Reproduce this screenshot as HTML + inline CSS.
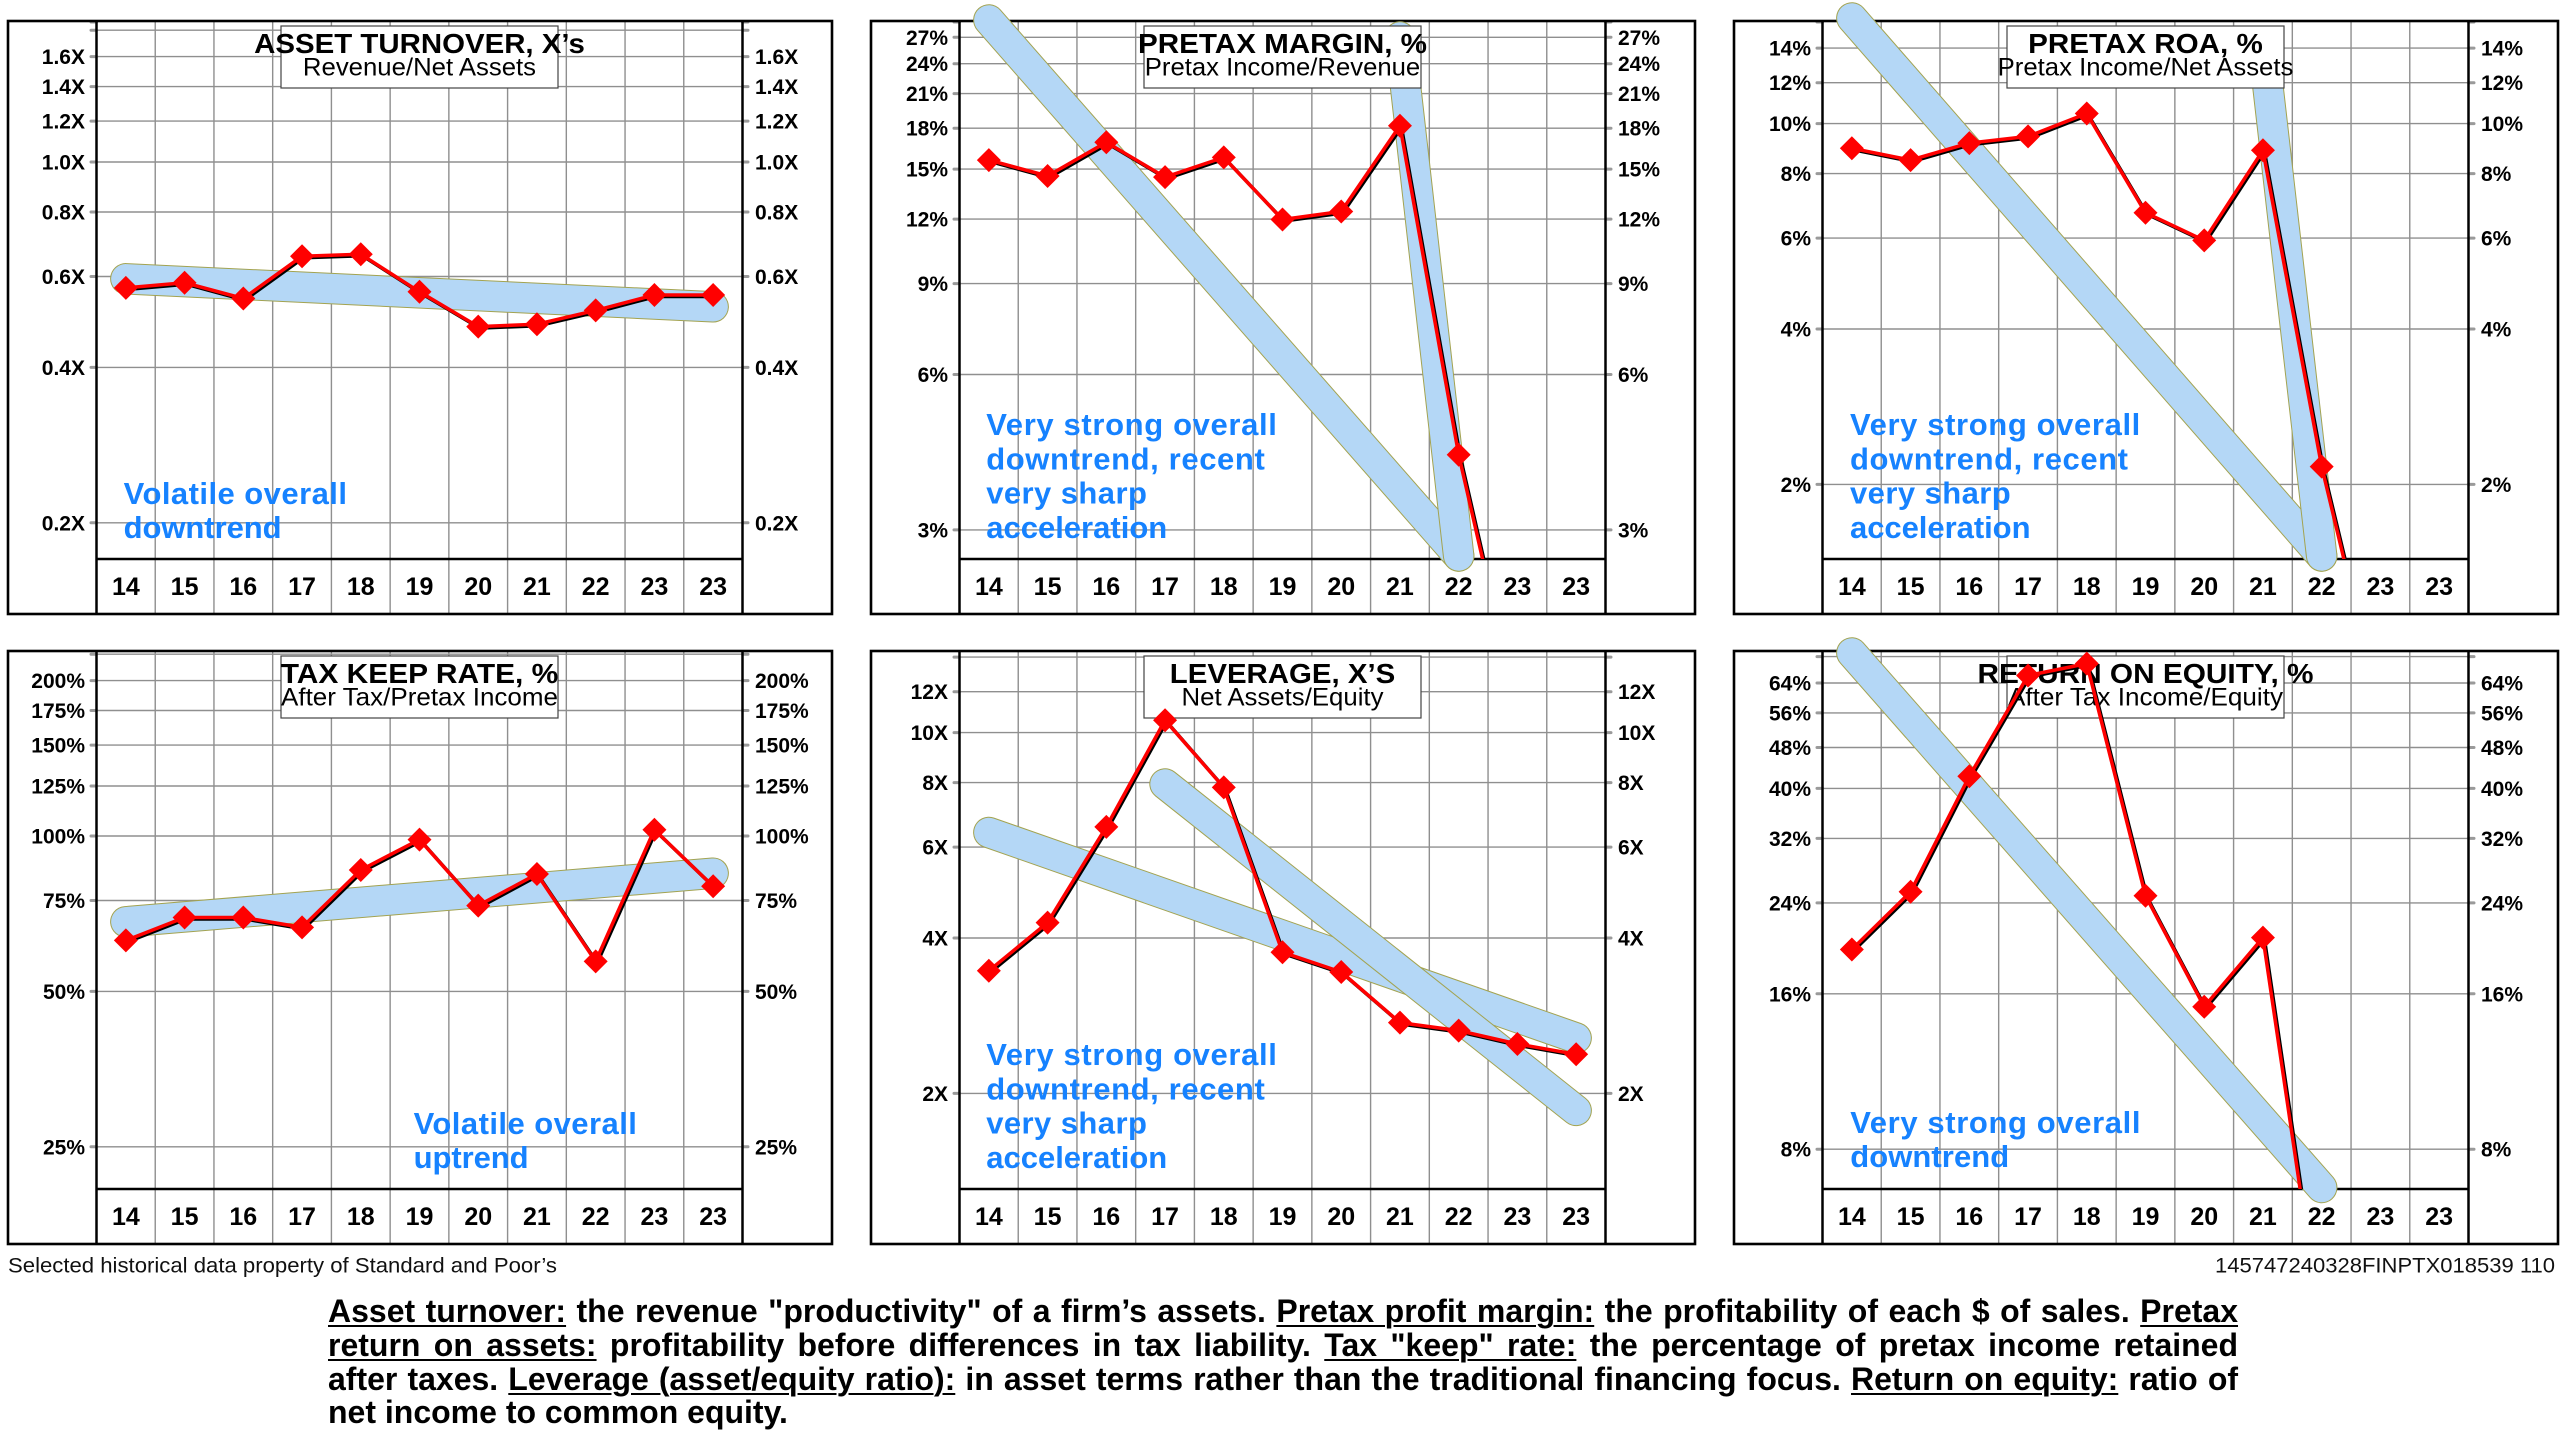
<!DOCTYPE html>
<html><head><meta charset="utf-8">
<style>
html,body{margin:0;padding:0;background:#fff;}
body{width:2560px;height:1442px;position:relative;overflow:hidden;}
svg{position:absolute;left:0;top:0;}
.tl{font-family:"Liberation Sans",sans-serif;font-weight:bold;font-size:21px;fill:#000;}
.yr{font-family:"Liberation Sans",sans-serif;font-weight:bold;font-size:25px;fill:#000;text-anchor:middle;}
.ti{font-family:"Liberation Sans",sans-serif;font-weight:bold;font-size:28px;fill:#000;}
.st{font-family:"Liberation Sans",sans-serif;font-size:25px;fill:#000;}
.an{font-family:"Liberation Sans",sans-serif;font-weight:bold;font-size:31px;fill:#1682ff;}
.ft{font-family:"Liberation Sans",sans-serif;font-size:21.5px;fill:#111;}
.hg{stroke:#8f8f8f;stroke-width:1.4;fill:none;}
.sb{stroke:#9a9a9a;stroke-width:3;stroke-linecap:round;fill:none;}
.bo{stroke:#a3a350;stroke-width:31.5;stroke-linecap:round;fill:none;}
.bf{stroke:#b4d7f6;stroke-width:29.5;stroke-linecap:round;fill:none;}
.ds{stroke:#000;stroke-width:3.5;fill:none;stroke-linejoin:round;}
.dl{stroke:#ff0000;stroke-width:3.5;fill:none;stroke-linejoin:round;}
.dm{fill:#ff0000;}
#para{position:absolute;left:328px;top:1295.4px;width:1910px;font-family:"Liberation Sans",sans-serif;font-weight:bold;font-size:32px;line-height:33.6px;color:#000;}
#para div{white-space:nowrap;text-align:justify;text-align-last:justify;width:1910px;}
#para div.last{text-align:left;text-align-last:left;}
#para .u{text-decoration:underline;text-decoration-thickness:2px;text-underline-offset:3px;}
</style></head>
<body>
<svg width="2560" height="1442" viewBox="0 0 2560 1442" xmlns="http://www.w3.org/2000/svg">
<defs>
<clipPath id="cp" clipPathUnits="userSpaceOnUse"><rect x="88.5" y="0" width="646" height="538"/></clipPath>
<g id="vg"><rect x="0" y="0" width="824" height="593" fill="#fff"/>
<path class="hg" d="M147.23 0V593M205.95 0V593M264.68 0V593M323.41 0V593M382.14 0V593M440.86 0V593M499.59 0V593M558.32 0V593M617.05 0V593M675.77 0V593"/></g>
<g id="ax"><path d="M88.5 0V593M734.5 0V593M88.5 538H734.5" stroke="#000" stroke-width="2.5" fill="none"/>
<rect x="0" y="0" width="824" height="593" fill="none" stroke="#000" stroke-width="2.6"/></g>
<rect id="tb" x="273" y="5" width="277" height="62" fill="#fff" stroke="#444" stroke-width="1.2"/>
<g id="yrs">
<text class="yr" x="117.86" y="574">14</text><text class="yr" x="176.59" y="574">15</text><text class="yr" x="235.32" y="574">16</text><text class="yr" x="294.05" y="574">17</text><text class="yr" x="352.77" y="574">18</text><text class="yr" x="411.5" y="574">19</text><text class="yr" x="470.23" y="574">20</text><text class="yr" x="528.95" y="574">21</text><text class="yr" x="587.68" y="574">22</text><text class="yr" x="646.41" y="574">23</text><text class="yr" x="705.14" y="574">23</text>
</g>
</defs>

<!-- PANEL 1 -->
<g transform="translate(8,21)">
<use href="#vg"/>
<path class="hg" d="M88.5 9.2H734.5M88.5 35.6H734.5M88.5 65.6H734.5M88.5 100.1H734.5M88.5 141H734.5M88.5 191H734.5M88.5 255.5H734.5M88.5 346.4H734.5M88.5 501.8H734.5"/>
<path class="sb" d="M83 1H88.5M83 9.2H88.5M83 35.6H88.5M83 65.6H88.5M83 100.1H88.5M83 141H88.5M83 191H88.5M83 255.5H88.5M83 346.4H88.5M83 501.8H88.5M734.5 1H740M734.5 9.2H740M734.5 35.6H740M734.5 65.6H740M734.5 100.1H740M734.5 141H740M734.5 191H740M734.5 255.5H740M734.5 346.4H740M734.5 501.8H740"/>
<use href="#ax"/>
<path class="bo" d="M117.86 257.8L705.14 285.8"/><path class="bf" d="M117.86 257.8L705.14 285.8"/>
<use href="#tb"/>
<text class="ti" x="246.15" y="32" textLength="330.7" lengthAdjust="spacingAndGlyphs">ASSET TURNOVER, X’s</text>
<text class="st" x="294.95" y="54.5" textLength="233.1" lengthAdjust="spacingAndGlyphs">Revenue/Net Assets</text>
<g clip-path="url(#cp)">
<polyline class="ds" transform="translate(1.5 1.5)" points="117.86,266.9 176.59,261.7 235.32,277.5 294.05,235.2 352.77,233.2 411.5,270.8 470.23,305.6 528.95,303.2 587.68,289.4 646.41,274 705.14,274"/>
<polyline class="dl" points="117.86,266.9 176.59,261.7 235.32,277.5 294.05,235.2 352.77,233.2 411.5,270.8 470.23,305.6 528.95,303.2 587.68,289.4 646.41,274 705.14,274"/>
<path class="dm" d="M117.86 254.9l12 12-12 12-12-12zM176.59 249.7l12 12-12 12-12-12zM235.32 265.5l12 12-12 12-12-12zM294.05 223.2l12 12-12 12-12-12zM352.77 221.2l12 12-12 12-12-12zM411.5 258.8l12 12-12 12-12-12zM470.23 293.6l12 12-12 12-12-12zM528.95 291.2l12 12-12 12-12-12zM587.68 277.4l12 12-12 12-12-12zM646.41 262l12 12-12 12-12-12zM705.14 262l12 12-12 12-12-12z"/>
</g>
<use href="#yrs"/>
<g class="tl" text-anchor="end">
<text x="77" y="43.1">1.6X</text><text x="77" y="73.1">1.4X</text><text x="77" y="107.6">1.2X</text><text x="77" y="148.5">1.0X</text><text x="77" y="198.5">0.8X</text><text x="77" y="263">0.6X</text><text x="77" y="353.9">0.4X</text><text x="77" y="509.3">0.2X</text>
</g>
<g class="tl">
<text x="747" y="43.1">1.6X</text><text x="747" y="73.1">1.4X</text><text x="747" y="107.6">1.2X</text><text x="747" y="148.5">1.0X</text><text x="747" y="198.5">0.8X</text><text x="747" y="263">0.6X</text><text x="747" y="353.9">0.4X</text><text x="747" y="509.3">0.2X</text>
</g>
<text class="an" x="115.6" y="483" textLength="223.4" lengthAdjust="spacing">Volatile overall</text>
<text class="an" x="115.6" y="517" textLength="158" lengthAdjust="spacing">downtrend</text>
</g>

<!-- PANEL 2 -->
<g transform="translate(871,21)">
<use href="#vg"/>
<path class="hg" d="M88.5 16.3H734.5M88.5 42.7H734.5M88.5 72.6H734.5M88.5 107.2H734.5M88.5 148.1H734.5M88.5 198.1H734.5M88.5 262.6H734.5M88.5 353.5H734.5M88.5 508.9H734.5"/>
<path class="sb" d="M83 1H88.5M83 16.3H88.5M83 42.7H88.5M83 72.6H88.5M83 107.2H88.5M83 148.1H88.5M83 198.1H88.5M83 262.6H88.5M83 353.5H88.5M83 508.9H88.5M734.5 1H740M734.5 16.3H740M734.5 42.7H740M734.5 72.6H740M734.5 107.2H740M734.5 148.1H740M734.5 198.1H740M734.5 262.6H740M734.5 353.5H740M734.5 508.9H740"/>
<use href="#ax"/>
<path class="bo" d="M117.86 -1L587.68 535"/><path class="bf" d="M117.86 -1L587.68 535"/>
<path class="bo" d="M528.95 16L587.68 535"/><path class="bf" d="M528.95 16L587.68 535"/>
<use href="#tb"/>
<text class="ti" x="267" y="32" textLength="289" lengthAdjust="spacingAndGlyphs">PRETAX MARGIN, %</text>
<text class="st" x="273.8" y="54.5" textLength="275.4" lengthAdjust="spacingAndGlyphs">Pretax Income/Revenue</text>
<g clip-path="url(#cp)">
<polyline class="ds" transform="translate(1.5 1.5)" points="117.86,139.1 176.59,155 235.32,121.3 294.05,156.1 352.77,136.4 411.5,198.5 470.23,190.5 528.95,104.7 587.68,433.7 646.41,690"/>
<polyline class="dl" points="117.86,139.1 176.59,155 235.32,121.3 294.05,156.1 352.77,136.4 411.5,198.5 470.23,190.5 528.95,104.7 587.68,433.7 646.41,690"/>
<path class="dm" d="M117.86 127.1l12 12-12 12-12-12zM176.59 143l12 12-12 12-12-12zM235.32 109.3l12 12-12 12-12-12zM294.05 144.1l12 12-12 12-12-12zM352.77 124.4l12 12-12 12-12-12zM411.5 186.5l12 12-12 12-12-12zM470.23 178.5l12 12-12 12-12-12zM528.95 92.7l12 12-12 12-12-12zM587.68 421.7l12 12-12 12-12-12z"/>
</g>
<use href="#yrs"/>
<g class="tl" text-anchor="end">
<text x="77" y="23.8">27%</text><text x="77" y="50.2">24%</text><text x="77" y="80.1">21%</text><text x="77" y="114.7">18%</text><text x="77" y="155.6">15%</text><text x="77" y="205.6">12%</text><text x="77" y="270.1">9%</text><text x="77" y="361">6%</text><text x="77" y="516.4">3%</text>
</g>
<g class="tl">
<text x="747" y="23.8">27%</text><text x="747" y="50.2">24%</text><text x="747" y="80.1">21%</text><text x="747" y="114.7">18%</text><text x="747" y="155.6">15%</text><text x="747" y="205.6">12%</text><text x="747" y="270.1">9%</text><text x="747" y="361">6%</text><text x="747" y="516.4">3%</text>
</g>
<text class="an" x="115.2" y="414" textLength="290.7" lengthAdjust="spacing">Very strong overall</text>
<text class="an" x="115.2" y="448.3" textLength="278.6" lengthAdjust="spacing">downtrend, recent</text>
<text class="an" x="115.2" y="482.6" textLength="160.7" lengthAdjust="spacing">very sharp</text>
<text class="an" x="115.2" y="517" textLength="181" lengthAdjust="spacing">acceleration</text>
</g>

<!-- PANEL 3 -->
<g transform="translate(1734,21)">
<use href="#vg"/>
<path class="hg" d="M88.5 27.1H734.5M88.5 61.7H734.5M88.5 102.6H734.5M88.5 152.6H734.5M88.5 217.1H734.5M88.5 308H734.5M88.5 463.4H734.5"/>
<path class="sb" d="M83 1H88.5M83 27.1H88.5M83 61.7H88.5M83 102.6H88.5M83 152.6H88.5M83 217.1H88.5M83 308H88.5M83 463.4H88.5M734.5 1H740M734.5 27.1H740M734.5 61.7H740M734.5 102.6H740M734.5 152.6H740M734.5 217.1H740M734.5 308H740M734.5 463.4H740"/>
<use href="#ax"/>
<path class="bo" d="M117.86 -3L587.68 535"/><path class="bf" d="M117.86 -3L587.68 535"/>
<path class="bo" d="M528.95 22L587.68 535"/><path class="bf" d="M528.95 22L587.68 535"/>
<use href="#tb"/>
<text class="ti" x="294.2" y="32" textLength="234.6" lengthAdjust="spacingAndGlyphs">PRETAX ROA, %</text>
<text class="st" x="263.65" y="54.5" textLength="295.7" lengthAdjust="spacingAndGlyphs">Pretax Income/Net Assets</text>
<g clip-path="url(#cp)">
<polyline class="ds" transform="translate(1.5 1.5)" points="117.86,127.3 176.59,139.1 235.32,122.1 294.05,115.4 352.77,92.5 411.5,191.7 470.23,219.4 528.95,129.3 587.68,445.6 646.41,690"/>
<polyline class="dl" points="117.86,127.3 176.59,139.1 235.32,122.1 294.05,115.4 352.77,92.5 411.5,191.7 470.23,219.4 528.95,129.3 587.68,445.6 646.41,690"/>
<path class="dm" d="M117.86 115.3l12 12-12 12-12-12zM176.59 127.1l12 12-12 12-12-12zM235.32 110.1l12 12-12 12-12-12zM294.05 103.4l12 12-12 12-12-12zM352.77 80.5l12 12-12 12-12-12zM411.5 179.7l12 12-12 12-12-12zM470.23 207.4l12 12-12 12-12-12zM528.95 117.3l12 12-12 12-12-12zM587.68 433.6l12 12-12 12-12-12z"/>
</g>
<use href="#yrs"/>
<g class="tl" text-anchor="end">
<text x="77" y="34.6">14%</text><text x="77" y="69.2">12%</text><text x="77" y="110.1">10%</text><text x="77" y="160.1">8%</text><text x="77" y="224.6">6%</text><text x="77" y="315.5">4%</text><text x="77" y="470.9">2%</text>
</g>
<g class="tl">
<text x="747" y="34.6">14%</text><text x="747" y="69.2">12%</text><text x="747" y="110.1">10%</text><text x="747" y="160.1">8%</text><text x="747" y="224.6">6%</text><text x="747" y="315.5">4%</text><text x="747" y="470.9">2%</text>
</g>
<text class="an" x="116" y="414" textLength="290.3" lengthAdjust="spacing">Very strong overall</text>
<text class="an" x="116" y="448.3" textLength="278" lengthAdjust="spacing">downtrend, recent</text>
<text class="an" x="116" y="482.6" textLength="160.7" lengthAdjust="spacing">very sharp</text>
<text class="an" x="116" y="517" textLength="180.5" lengthAdjust="spacing">acceleration</text>
</g>

<!-- PANEL 4 -->
<g transform="translate(8,651)">
<use href="#vg"/>
<path class="hg" d="M88.5 3.2H734.5M88.5 29.6H734.5M88.5 59.5H734.5M88.5 94.1H734.5M88.5 135H734.5M88.5 185H734.5M88.5 249.5H734.5M88.5 340.4H734.5M88.5 495.8H734.5"/>
<path class="sb" d="M83 3.2H88.5M83 29.6H88.5M83 59.5H88.5M83 94.1H88.5M83 135H88.5M83 185H88.5M83 249.5H88.5M83 340.4H88.5M83 495.8H88.5M734.5 3.2H740M734.5 29.6H740M734.5 59.5H740M734.5 94.1H740M734.5 135H740M734.5 185H740M734.5 249.5H740M734.5 340.4H740M734.5 495.8H740"/>
<use href="#ax"/>
<path class="bo" d="M117.86 270.8L705.14 222.2"/><path class="bf" d="M117.86 270.8L705.14 222.2"/>
<use href="#tb"/>
<text class="ti" x="272.75" y="32" textLength="277.5" lengthAdjust="spacingAndGlyphs">TAX KEEP RATE, %</text>
<text class="st" x="273" y="54.5" textLength="277" lengthAdjust="spacingAndGlyphs">After Tax/Pretax Income</text>
<g clip-path="url(#cp)">
<polyline class="ds" transform="translate(1.5 1.5)" points="117.86,289.4 176.59,266.5 235.32,266.5 294.05,276.4 352.77,219 411.5,188.6 470.23,254.6 528.95,223 587.68,310.4 646.41,178.7 705.14,235.2"/>
<polyline class="dl" points="117.86,289.4 176.59,266.5 235.32,266.5 294.05,276.4 352.77,219 411.5,188.6 470.23,254.6 528.95,223 587.68,310.4 646.41,178.7 705.14,235.2"/>
<path class="dm" d="M117.86 277.4l12 12-12 12-12-12zM176.59 254.5l12 12-12 12-12-12zM235.32 254.5l12 12-12 12-12-12zM294.05 264.4l12 12-12 12-12-12zM352.77 207l12 12-12 12-12-12zM411.5 176.6l12 12-12 12-12-12zM470.23 242.6l12 12-12 12-12-12zM528.95 211l12 12-12 12-12-12zM587.68 298.4l12 12-12 12-12-12zM646.41 166.7l12 12-12 12-12-12zM705.14 223.2l12 12-12 12-12-12z"/>
</g>
<use href="#yrs"/>
<g class="tl" text-anchor="end">
<text x="77" y="37.1">200%</text><text x="77" y="67">175%</text><text x="77" y="101.6">150%</text><text x="77" y="142.5">125%</text><text x="77" y="192.5">100%</text><text x="77" y="257">75%</text><text x="77" y="347.9">50%</text><text x="77" y="503.3">25%</text>
</g>
<g class="tl">
<text x="747" y="37.1">200%</text><text x="747" y="67">175%</text><text x="747" y="101.6">150%</text><text x="747" y="142.5">125%</text><text x="747" y="192.5">100%</text><text x="747" y="257">75%</text><text x="747" y="347.9">50%</text><text x="747" y="503.3">25%</text>
</g>
<text class="an" x="405.6" y="483" textLength="223.3" lengthAdjust="spacing">Volatile overall</text>
<text class="an" x="405.6" y="517" textLength="115" lengthAdjust="spacing">uptrend</text>
</g>

<!-- PANEL 5 -->
<g transform="translate(871,651)">
<use href="#vg"/>
<path class="hg" d="M88.5 6.1H734.5M88.5 40.7H734.5M88.5 81.6H734.5M88.5 131.6H734.5M88.5 196.1H734.5M88.5 287H734.5M88.5 442.4H734.5"/>
<path class="sb" d="M83 6.1H88.5M83 40.7H88.5M83 81.6H88.5M83 131.6H88.5M83 196.1H88.5M83 287H88.5M83 442.4H88.5M734.5 6.1H740M734.5 40.7H740M734.5 81.6H740M734.5 131.6H740M734.5 196.1H740M734.5 287H740M734.5 442.4H740"/>
<use href="#ax"/>
<path class="bo" d="M117.86 181.5L705.14 387"/><path class="bf" d="M117.86 181.5L705.14 387"/>
<path class="bo" d="M294.05 133L705.14 459.4"/><path class="bf" d="M294.05 133L705.14 459.4"/>
<use href="#tb"/>
<text class="ti" x="298.75" y="32" textLength="225.5" lengthAdjust="spacingAndGlyphs">LEVERAGE, X’S</text>
<text class="st" x="310.5" y="54.5" textLength="202" lengthAdjust="spacingAndGlyphs">Net Assets/Equity</text>
<g clip-path="url(#cp)">
<polyline class="ds" transform="translate(1.5 1.5)" points="117.86,319.8 176.59,271.6 235.32,175.9 294.05,69.2 352.77,136.4 411.5,301.3 470.23,321 528.95,371.6 587.68,379.6 646.41,393 705.14,403.3"/>
<polyline class="dl" points="117.86,319.8 176.59,271.6 235.32,175.9 294.05,69.2 352.77,136.4 411.5,301.3 470.23,321 528.95,371.6 587.68,379.6 646.41,393 705.14,403.3"/>
<path class="dm" d="M117.86 307.8l12 12-12 12-12-12zM176.59 259.6l12 12-12 12-12-12zM235.32 163.9l12 12-12 12-12-12zM294.05 57.2l12 12-12 12-12-12zM352.77 124.4l12 12-12 12-12-12zM411.5 289.3l12 12-12 12-12-12zM470.23 309l12 12-12 12-12-12zM528.95 359.6l12 12-12 12-12-12zM587.68 367.6l12 12-12 12-12-12zM646.41 381l12 12-12 12-12-12zM705.14 391.3l12 12-12 12-12-12z"/>
</g>
<use href="#yrs"/>
<g class="tl" text-anchor="end">
<text x="77" y="48.2">12X</text><text x="77" y="89.1">10X</text><text x="77" y="139.1">8X</text><text x="77" y="203.6">6X</text><text x="77" y="294.5">4X</text><text x="77" y="449.9">2X</text>
</g>
<g class="tl">
<text x="747" y="48.2">12X</text><text x="747" y="89.1">10X</text><text x="747" y="139.1">8X</text><text x="747" y="203.6">6X</text><text x="747" y="294.5">4X</text><text x="747" y="449.9">2X</text>
</g>
<text class="an" x="115.2" y="414" textLength="290.7" lengthAdjust="spacing">Very strong overall</text>
<text class="an" x="115.2" y="448.3" textLength="278.6" lengthAdjust="spacing">downtrend, recent</text>
<text class="an" x="115.2" y="482.6" textLength="160.7" lengthAdjust="spacing">very sharp</text>
<text class="an" x="115.2" y="517" textLength="181" lengthAdjust="spacing">acceleration</text>
</g>

<!-- PANEL 6 -->
<g transform="translate(1734,651)">
<use href="#vg"/>
<path class="hg" d="M88.5 5.6H734.5M88.5 32H734.5M88.5 61.9H734.5M88.5 96.5H734.5M88.5 137.4H734.5M88.5 187.4H734.5M88.5 251.9H734.5M88.5 342.8H734.5M88.5 498.2H734.5"/>
<path class="sb" d="M83 5.6H88.5M83 32H88.5M83 61.9H88.5M83 96.5H88.5M83 137.4H88.5M83 187.4H88.5M83 251.9H88.5M83 342.8H88.5M83 498.2H88.5M734.5 5.6H740M734.5 32H740M734.5 61.9H740M734.5 96.5H740M734.5 137.4H740M734.5 187.4H740M734.5 251.9H740M734.5 342.8H740M734.5 498.2H740"/>
<use href="#ax"/>
<path class="bo" d="M117.86 2L587.68 536.5"/><path class="bf" d="M117.86 2L587.68 536.5"/>
<use href="#tb"/>
<text class="ti" x="243.5" y="32" textLength="336" lengthAdjust="spacingAndGlyphs">RETURN ON EQUITY, %</text>
<text class="st" x="274" y="54.5" textLength="275" lengthAdjust="spacingAndGlyphs">After Tax Income/Equity</text>
<g clip-path="url(#cp)">
<polyline class="ds" transform="translate(1.5 1.5)" points="117.86,298.5 176.59,240.8 235.32,125.3 294.05,24.5 352.77,12.6 411.5,244.7 470.23,355.8 528.95,286.6 587.68,684"/>
<polyline class="dl" points="117.86,298.5 176.59,240.8 235.32,125.3 294.05,24.5 352.77,12.6 411.5,244.7 470.23,355.8 528.95,286.6 587.68,684"/>
<path class="dm" d="M117.86 286.5l12 12-12 12-12-12zM176.59 228.8l12 12-12 12-12-12zM235.32 113.3l12 12-12 12-12-12zM294.05 12.5l12 12-12 12-12-12zM352.77 0.6l12 12-12 12-12-12zM411.5 232.7l12 12-12 12-12-12zM470.23 343.8l12 12-12 12-12-12zM528.95 274.6l12 12-12 12-12-12z"/>
</g>
<use href="#yrs"/>
<g class="tl" text-anchor="end">
<text x="77" y="39.5">64%</text><text x="77" y="69.4">56%</text><text x="77" y="104">48%</text><text x="77" y="144.9">40%</text><text x="77" y="194.9">32%</text><text x="77" y="259.4">24%</text><text x="77" y="350.3">16%</text><text x="77" y="505.7">8%</text>
</g>
<g class="tl">
<text x="747" y="39.5">64%</text><text x="747" y="69.4">56%</text><text x="747" y="104">48%</text><text x="747" y="144.9">40%</text><text x="747" y="194.9">32%</text><text x="747" y="259.4">24%</text><text x="747" y="350.3">16%</text><text x="747" y="505.7">8%</text>
</g>
<text class="an" x="116.2" y="482" textLength="290.3" lengthAdjust="spacing">Very strong overall</text>
<text class="an" x="116.2" y="516" textLength="159" lengthAdjust="spacing">downtrend</text>
</g>

<!-- FOOTER -->
<text class="ft" x="8" y="1272.7" textLength="549" lengthAdjust="spacingAndGlyphs">Selected historical data property of Standard and Poor’s</text>
<text class="ft" x="2215" y="1272.7" textLength="340" lengthAdjust="spacingAndGlyphs">145747240328FINPTX018539 110</text>
</svg>

<div id="para">
<div><span class="u">Asset turnover:</span> the revenue "productivity" of a firm’s assets. <span class="u">Pretax profit margin:</span> the profitability of each $ of sales. <span class="u">Pretax</span></div>
<div><span class="u">return on assets:</span> profitability before differences in tax liability. <span class="u">Tax "keep" rate:</span> the percentage of pretax income retained</div>
<div>after taxes. <span class="u">Leverage (asset/equity ratio):</span> in asset terms rather than the traditional financing focus. <span class="u">Return on equity:</span> ratio of</div>
<div class="last">net income to common equity.</div>
</div>
</body></html>
